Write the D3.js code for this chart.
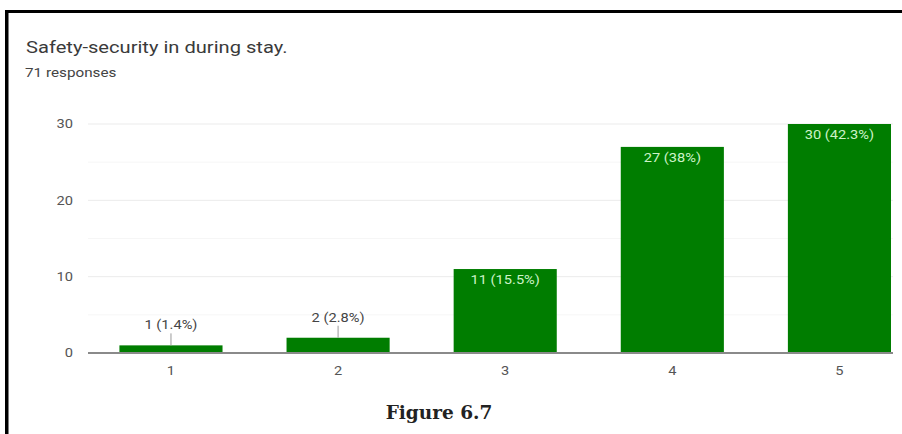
<!DOCTYPE html>
<html>
<head>
<meta charset="utf-8">
<script src="https://cdn.jsdelivr.net/npm/d3@7"></script>
<style>
  html, body { margin: 0; padding: 0; background: #fff; }
  svg { display: block; }
</style>
</head>
<body>
<svg id="chart" width="902" height="434"></svg>
<script>
// Survey answers on a 1–5 scale
const categories = ["1", "2", "3", "4", "5"];
const counts = [1, 2, 11, 27, 30];
const percentLabels = ["1.4%", "2.8%", "15.5%", "38%", "42.3%"];
const yTicks = [0, 10, 20, 30];
const minorTicks = [5, 15, 25];
const titleText = "Safety-security in during stay.";
const subtitleText = "71 responses";
const captionText = "Figure 6.7";

const SANS = "Roboto, Arial, sans-serif";
const WIDE = 1.22; // horizontal stretch of the sans-serif labels

const svg = d3.select("#chart");

// Page frame: top and left rules
svg.append("rect").attr("x", 5).attr("y", 10).attr("width", 897).attr("height", 3).attr("fill", "#000");
svg.append("rect").attr("x", 5).attr("y", 10).attr("width", 3.5).attr("height", 424).attr("fill", "#000");

const plot = { left: 88, right: 893, top: 124, bottom: 353 };

const x = d3.scaleBand()
  .domain(categories)
  .range([plot.left, plot.right])
  .paddingInner(0.383)
  .paddingOuter(0.1)
  .align(0.94);

const y = d3.scaleLinear()
  .domain([0, 30])
  .range([plot.bottom, plot.top]);

// Helper: stretched sans text anchored at (px, py)
function label(parent, px, py, str, opts) {
  return parent.append("text")
    .attr("transform", `translate(${px},${py}) scale(${WIDE},1)`)
    .attr("text-anchor", opts.anchor || "start")
    .attr("font-family", SANS)
    .attr("font-size", opts.size)
    .attr("font-weight", opts.weight || 400)
    .attr("fill", opts.fill)
    .text(str);
}

// Title block
label(svg, 26, 53, titleText, { size: 16.5, fill: "#3a3a3a" });
label(svg, 25, 77, subtitleText, { size: 12.5, fill: "#444" });

// Gridlines
svg.append("g").selectAll("line").data(minorTicks).join("line")
  .attr("x1", plot.left).attr("x2", plot.right)
  .attr("y1", d => y(d)).attr("y2", d => y(d))
  .attr("stroke", "#f6f6f6").attr("stroke-width", 1);

svg.append("g").selectAll("line").data(yTicks.filter(d => d > 0)).join("line")
  .attr("x1", plot.left).attr("x2", plot.right)
  .attr("y1", d => y(d)).attr("y2", d => y(d))
  .attr("stroke", "#ebebeb").attr("stroke-width", 1);

// Y axis labels
const yAxis = d3.axisLeft(y).tickValues(yTicks).tickSize(0).tickPadding(0);
const yg = svg.append("g").attr("transform", `translate(${plot.left - 15},0)`).call(yAxis);
yg.select(".domain").remove();
yg.selectAll("text")
  .attr("transform", `scale(${WIDE},1)`)
  .attr("font-family", SANS)
  .attr("font-size", 12)
  .attr("fill", "#555");

// Bars
svg.append("g").selectAll("rect").data(counts).join("rect")
  .attr("x", (d, i) => x(categories[i]))
  .attr("y", d => y(d))
  .attr("width", x.bandwidth())
  .attr("height", d => y(0) - y(d))
  .attr("fill", "#007d00");

// Baseline and x labels
const xAxis = d3.axisBottom(x).tickSize(0).tickPadding(13);
const xg = svg.append("g").attr("transform", `translate(0,${plot.bottom})`).call(xAxis);
xg.select(".domain")
  .attr("stroke", "#8a8a8a").attr("stroke-width", 2)
  .attr("d", `M${plot.left},0H${plot.right}`);
xg.selectAll("text")
  .attr("transform", `scale(${WIDE},1)`)
  .attr("font-family", SANS)
  .attr("font-size", 12)
  .attr("fill", "#555");

// Value labels: inside tall bars, above short bars with a leader line
const labels = svg.append("g");
counts.forEach((v, i) => {
  const cx = x(categories[i]) + x.bandwidth() / 2;
  const text = `${v} (${percentLabels[i]})`;
  const barH = y(0) - y(v);
  if (barH > 30) {
    label(labels, cx, y(v) + 15, text, { size: 12, fill: "#cdf3c8", anchor: "middle" });
  } else {
    labels.append("line")
      .attr("x1", cx).attr("x2", cx)
      .attr("y1", y(v)).attr("y2", y(v) - 12)
      .attr("stroke", "#999").attr("stroke-width", 1);
    label(labels, cx, y(v) - 16, text, { size: 12, fill: "#444", anchor: "middle" });
  }
});

// Caption
svg.append("text")
  .attr("x", 439).attr("y", 419)
  .attr("text-anchor", "middle")
  .attr("font-family", "'DejaVu Serif', 'Liberation Serif', serif")
  .attr("font-weight", "bold")
  .attr("font-size", 18.5)
  .attr("fill", "#222")
  .text(captionText);
</script>
</body>
</html>
